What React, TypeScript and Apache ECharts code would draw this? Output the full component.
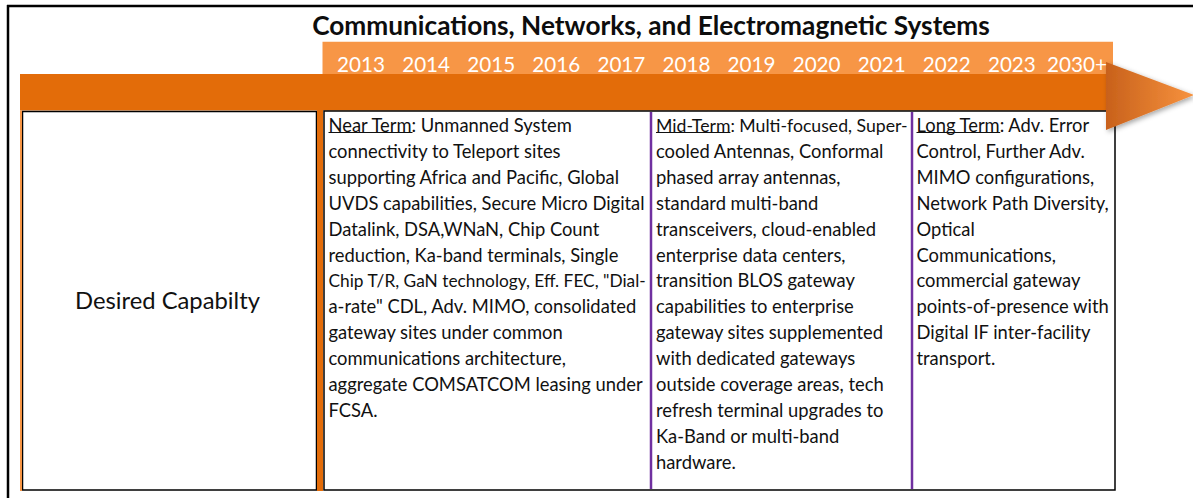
import React, { useEffect, useRef } from "react";
import * as echarts from "echarts";

const TITLE = "Communications, Networks, and Electromagnetic Systems";
const YEARS = ["2013", "2014", "2015", "2016", "2017", "2018", "2019", "2020", "2021", "2022", "2023", "2030+"];
const ROW_LABEL = "Desired Capabilty";
const TERM_LABELS = ["Near Term", "Mid-Term", "Long Term"];
const NEAR_LINES = [
  "Near Term: Unmanned System",
  "connectivity to Teleport sites",
  "supporting Africa and Pacific, Global",
  "UVDS capabilities, Secure Micro Digital",
  "Datalink, DSA,WNaN, Chip Count",
  "reduction, Ka-band terminals, Single",
  "Chip T/R, GaN technology, Eff. FEC, \"Dial-",
  "a-rate\" CDL, Adv. MIMO, consolidated",
  "gateway sites under common",
  "communications architecture,",
  "aggregate COMSATCOM leasing under",
  "FCSA.",
];
const MID_LINES = [
  "Mid-Term: Multi-focused, Super-",
  "cooled Antennas, Conformal",
  "phased array antennas,",
  "standard multi-band",
  "transceivers, cloud-enabled",
  "enterprise data centers,",
  "transition BLOS gateway",
  "capabilities to enterprise",
  "gateway sites supplemented",
  "with dedicated gateways",
  "outside coverage areas, tech",
  "refresh terminal upgrades to",
  "Ka-Band or multi-band",
  "hardware.",
];
const LONG_LINES = [
  "Long Term: Adv. Error",
  "Control, Further Adv.",
  "MIMO configurations,",
  "Network Path Diversity,",
  "Optical",
  "Communications,",
  "commercial gateway",
  "points-of-presence with",
  "Digital IF inter-facility",
  "transport.",
];

const FONT = "Lato";
const LIGHT = "#F79646";
const DARK = "#E36C09";
const PURPLE = "#7030A0";
const INK = "#111111";

let measureCtx: CanvasRenderingContext2D | null = null;
function measure(text: string, size: number, weight = "normal"): number {
  if (!measureCtx) measureCtx = document.createElement("canvas").getContext("2d");
  measureCtx!.font = `${weight} ${size}px ${FONT}`;
  return measureCtx!.measureText(text).width;
}
function fit(text: string, target: number, weight = "normal"): number {
  return (100 * target) / measure(text, 100, weight);
}

export default function App() {
  const ref = useRef<HTMLDivElement>(null);
  useEffect(() => {
    if (!ref.current) return;
    const chart = echarts.init(ref.current, undefined, { renderer: "svg" });

    const titleSize = fit(TITLE, 678, "bold");
    const yearSize = fit("2013", 48);
    const labelSize = fit(ROW_LABEL, 185);
    const cellSize =
      (fit("supporting Africa and Pacific, Global", 289) +
        fit("transceivers, cloud-enabled", 226) +
        fit("Network Path Diversity,", 189)) /
      3;

    const lineH = 25.9;
    const firstY = 125;
    const columns = [
      { x: 328.5, maxW: 318, lines: NEAR_LINES, label: TERM_LABELS[0] },
      { x: 656, maxW: 252, lines: MID_LINES, label: TERM_LABELS[1] },
      { x: 916.5, maxW: 194, lines: LONG_LINES, label: TERM_LABELS[2] },
    ];

    const textEls: any[] = [];
    columns.forEach((col) => {
      col.lines.forEach((ln, i) => {
        const size = Math.min(cellSize, fit(ln, col.maxW));
        textEls.push({
          type: "text",
          z: 5,
          style: {
            text: ln,
            x: col.x,
            y: firstY + i * lineH,
            fill: INK,
            fontFamily: FONT,
            fontSize: size,
            align: "left",
            verticalAlign: "middle",
          },
        });
        if (i === 0) {
          const w = measure(col.label, size);
          textEls.push({
            type: "line",
            z: 5,
            shape: { x1: col.x, y1: firstY + 7.5, x2: col.x + w, y2: firstY + 7.5 },
            style: { stroke: INK, lineWidth: 1 },
          });
        }
      });
    });

    const option: any = {
      animation: false,
      backgroundColor: "#ffffff",
      grid: { left: 328.5, width: 781, top: 42, height: 11.5 },
      xAxis: {
        type: "category",
        data: YEARS,
        z: 10,
        axisLine: { show: false },
        axisTick: { show: false },
        splitLine: { show: false },
        axisLabel: {
          color: "#ffffff",
          fontFamily: FONT,
          fontSize: yearSize,
          margin: 10,
          interval: 0,
          verticalAlign: "middle",
        },
      },
      yAxis: { type: "value", show: false },
      series: [{ type: "bar", data: [] }],
      graphic: [
        // outer frame
        { type: "line", shape: { x1: 7, y1: 6, x2: 1193, y2: 6 }, style: { stroke: "#000", lineWidth: 2.5 } },
        { type: "line", shape: { x1: 8, y1: 5, x2: 8, y2: 498 }, style: { stroke: "#000", lineWidth: 2.5 } },
        // title
        {
          type: "text",
          style: {
            text: TITLE,
            x: 651,
            y: 25,
            fill: "#0d0d0d",
            fontFamily: FONT,
            fontWeight: "bold",
            fontSize: titleSize,
            align: "center",
            verticalAlign: "middle",
          },
        },
        // bands
        { type: "rect", shape: { x: 322.5, y: 41.7, width: 790.5, height: 33 }, style: { fill: LIGHT } },
        { type: "rect", shape: { x: 20, y: 74, width: 1093, height: 36.5 }, style: { fill: DARK } },
        // table
        { type: "rect", z: 1, shape: { x: 22.5, y: 111.5, width: 294, height: 378.5 }, style: { fill: "#fff", stroke: "#000", lineWidth: 1.5 } },
        { type: "line", z: 2, shape: { x1: 21, y1: 110.5, x2: 21, y2: 491 }, style: { stroke: LIGHT, lineWidth: 2 } },
        { type: "rect", z: 2, shape: { x: 317, y: 110, width: 6, height: 381 }, style: { fill: DARK } },
        { type: "rect", z: 1, shape: { x: 324, y: 111, width: 791, height: 379 }, style: { fill: "#fff", stroke: "#000", lineWidth: 1.5 } },
        { type: "line", z: 2, shape: { x1: 651, y1: 112, x2: 651, y2: 489 }, style: { stroke: PURPLE, lineWidth: 2.5 } },
        { type: "line", z: 2, shape: { x1: 912, y1: 112, x2: 912, y2: 489 }, style: { stroke: PURPLE, lineWidth: 2.5 } },
        {
          type: "text",
          z: 5,
          style: {
            text: ROW_LABEL,
            x: 167.5,
            y: 300,
            fill: INK,
            fontFamily: FONT,
            fontSize: labelSize,
            align: "center",
            verticalAlign: "middle",
          },
        },
        ...textEls,
        // arrow head
        {
          type: "polygon",
          z: 8,
          shape: { points: [[1106, 62], [1194, 95], [1106, 130]] },
          style: {
            fill: new echarts.graphic.LinearGradient(0, 0, 1, 0, [
              { offset: 0, color: "#C8611B" },
              { offset: 1, color: "#F7923E" },
            ]),
            shadowBlur: 5,
            shadowColor: "rgba(0,0,0,0.35)",
            shadowOffsetX: 2,
            shadowOffsetY: 2,
          },
        },
      ],
    };
    chart.setOption(option);
    return () => chart.dispose();
  }, []);
  return (
    <div
      ref={ref}
      style={{ position: "fixed", left: 0, top: 0, width: 1193, height: 498, background: "#fff" }}
    />
  );
}
